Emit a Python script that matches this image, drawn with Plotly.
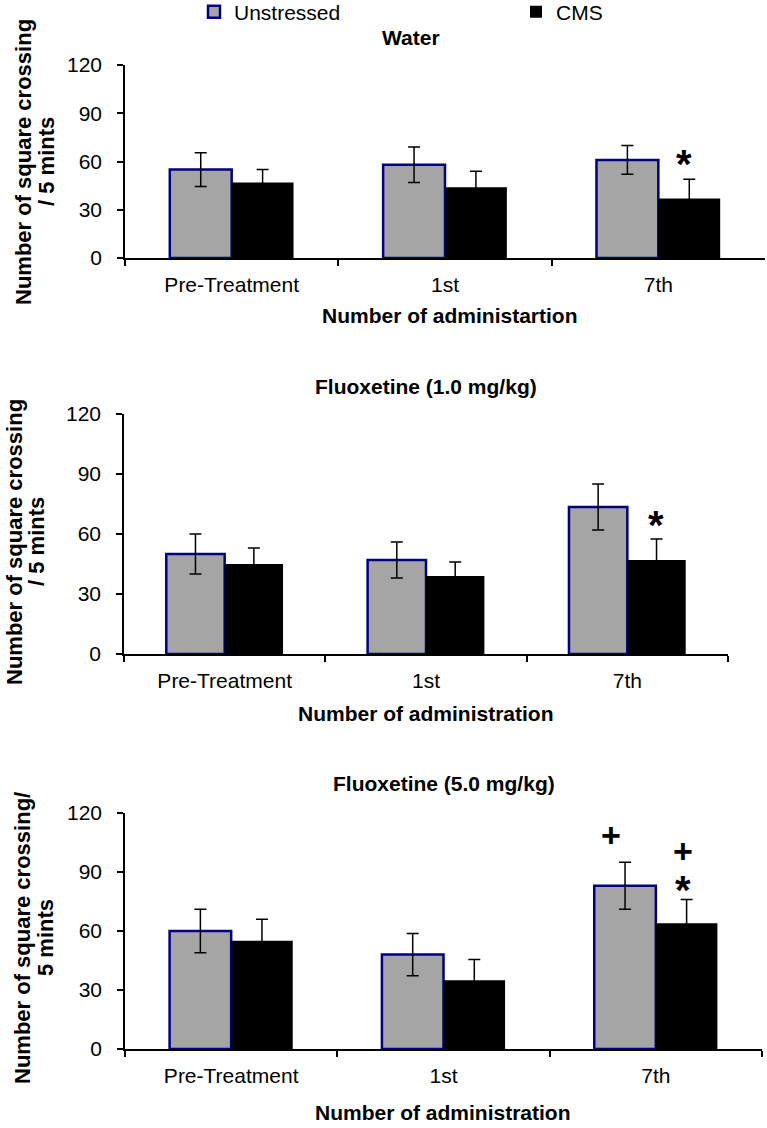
import plotly.graph_objects as go

# ---------------- data ----------------
categories = ["Pre-Treatment", "1st", "7th"]

water_unstressed = [55, 58, 61]
water_unstressed_err = [10.5, 11, 9]
water_cms = [47, 44, 37]
water_cms_err = [8, 10, 12]

fl1_unstressed = [50, 47, 73.5]
fl1_unstressed_err = [10, 9, 11.5]
fl1_cms = [45, 39, 47]
fl1_cms_err = [8, 7, 10.5]

fl5_unstressed = [60, 48, 83]
fl5_unstressed_err = [11, 10.7, 12]
fl5_cms = [55, 35, 64]
fl5_cms_err = [11, 10.5, 12]

panel_titles = ["Water", "Fluoxetine (1.0 mg/kg)", "Fluoxetine (5.0 mg/kg)"]
x_titles = ["Number of administartion", "Number of administration", "Number of administration"]
y_title_lines = [["Number of square crossing", "/ 5 mints"],
                 ["Number of square crossing", "/ 5 mints"],
                 ["Number of square crossing/", "5 mints"]]

y_ticks = [0, 30, 60, 90, 120]

# significance marks: (panel index, category position, y value, symbol)
sig_marks = [
    (0, 2.12, 64.5, "*"),
    (1, 2.14, 69.5, "*"),
    (2, 1.79, 109, "+"),
    (2, 2.13, 100.5, "+"),
    (2, 2.13, 86, "*"),
]

# ---------------- layout geometry (pixels) ----------------
W, H = 767, 1128
FONT = "Arial, Liberation Sans, sans-serif"
panels_px = [  # (x0, x1, ytop, ybottom)
    (125, 765, 65, 258),
    (124, 728, 414, 654),
    (125, 762, 813, 1049),
]
title_px = [(411, 38), (426, 386), (444, 783)]
xtitle_px = [(450, 315), (426, 713), (443, 1112)]
ytitle_px = [((24, 47), 162), ((14, 36), 542), ((22, 45), 938)]

GRAY = "#A5A5A5"
NAVY = "#000080"

data = [
    (water_unstressed, water_unstressed_err, water_cms, water_cms_err),
    (fl1_unstressed, fl1_unstressed_err, fl1_cms, fl1_cms_err),
    (fl5_unstressed, fl5_unstressed_err, fl5_cms, fl5_cms_err),
]

fig = go.Figure()
for i, (u, ue, c, ce) in enumerate(data):
    sfx = "" if i == 0 else str(i + 1)
    fig.add_trace(go.Bar(
        x=categories, y=u, name="Unstressed",
        marker=dict(color=GRAY, line=dict(color=NAVY, width=2.5)),
        error_y=dict(type="data", array=ue, visible=True, color="black", thickness=1.5, width=6),
        xaxis="x" + sfx, yaxis="y" + sfx, showlegend=(i == 0), legendgroup="u",
    ))
    fig.add_trace(go.Bar(
        x=categories, y=c, name="CMS",
        marker=dict(color="black", line=dict(color="black", width=0)),
        error_y=dict(type="data", array=ce, visible=True, color="black", thickness=1.5, width=6),
        xaxis="x" + sfx, yaxis="y" + sfx, showlegend=(i == 0), legendgroup="c",
    ))

layout = dict(
    width=W, height=H,
    margin=dict(l=0, r=0, t=0, b=0, autoexpand=False),
    paper_bgcolor="white", plot_bgcolor="white",
    barmode="group", bargap=0.42, bargroupgap=0,
    font=dict(family=FONT, size=21, color="black"),
    legend=dict(orientation="h", x=194 / W, y=1 - 12 / H, xanchor="left", yanchor="middle",
                entrywidth=277, entrywidthmode="pixels", itemwidth=30,
                font=dict(size=21), bgcolor="rgba(0,0,0,0)", tracegroupgap=0),
)

annotations = []
for i, (x0, x1, yt, yb) in enumerate(panels_px):
    sfx = "" if i == 0 else str(i + 1)
    layout["xaxis" + sfx] = dict(
        domain=[x0 / W, x1 / W], anchor="y" + sfx,
        type="category", range=[-0.5, 2.5],
        showline=True, linecolor="black", linewidth=1.5,
        ticks="outside", tickson="boundaries", ticklen=6, tickwidth=1.5, tickcolor="black",
        showgrid=False, zeroline=False, tickfont=dict(size=21),
        ticklabelstandoff=7, fixedrange=True, automargin=False,
    )
    layout["yaxis" + sfx] = dict(
        domain=[1 - yb / H, 1 - yt / H], anchor="x" + sfx,
        range=[0, 120], tickvals=y_ticks,
        showline=True, linecolor="black", linewidth=1.5,
        ticks="outside", ticklen=6, tickwidth=1.5, tickcolor="black",
        showgrid=False, zeroline=False, tickfont=dict(size=21),
        ticklabelstandoff=11, fixedrange=True, automargin=False,
    )
    tx, ty = title_px[i]
    annotations.append(dict(text="<b>%s</b>" % panel_titles[i], x=tx / W, y=1 - ty / H,
                            xref="paper", yref="paper", xanchor="center", yanchor="middle",
                            showarrow=False, font=dict(size=21)))
    xx, xy = xtitle_px[i]
    annotations.append(dict(text="<b>%s</b>" % x_titles[i], x=xx / W, y=1 - xy / H,
                            xref="paper", yref="paper", xanchor="center", yanchor="middle",
                            showarrow=False, font=dict(size=21)))
    (lx1, lx2), ly = ytitle_px[i]
    for lx, line in zip((lx1, lx2), y_title_lines[i]):
        annotations.append(dict(text="<b>%s</b>" % line, x=lx / W, y=1 - ly / H,
                                xref="paper", yref="paper", xanchor="center", yanchor="middle",
                                textangle=-90, showarrow=False, font=dict(size=22)))

for (p, xpos, yv, sym) in sig_marks:
    sfx = "" if p == 0 else str(p + 1)
    size = 40 if sym == "*" else 34
    shift = -10 if sym == "*" else 0
    annotations.append(dict(text="<b>%s</b>" % sym, x=xpos, y=yv, xref="x" + sfx, yref="y" + sfx,
                            xanchor="center", yanchor="middle", yshift=shift,
                            showarrow=False, font=dict(size=size)))

layout["annotations"] = annotations
fig.update_layout(**layout)
fig.write_html("out.html", config={"displayModeBar": False},
               post_script="document.body.style.margin='0';document.body.style.overflow='hidden';")
